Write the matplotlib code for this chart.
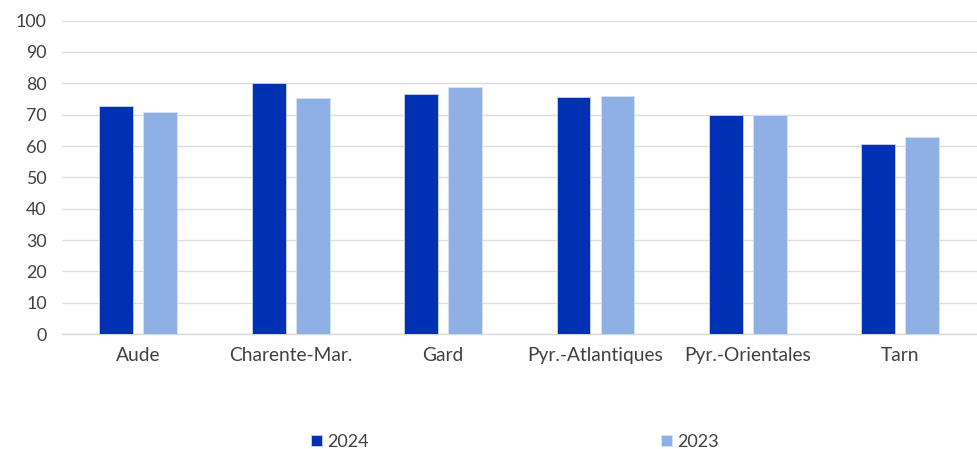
import matplotlib
matplotlib.use("Agg")
import matplotlib.pyplot as plt
import numpy as np

plt.rcParams.update({
    "font.family": ["Lato", "DejaVu Sans"],
    "font.size": 12,
})

categories = ["Aude", "Charente-Mar.", "Gard", "Pyr.-Atlantiques", "Pyr.-Orientales", "Tarn"]
values_2024 = [72.7, 80.1, 76.5, 75.6, 69.9, 60.5]
values_2023 = [71.0, 75.2, 78.8, 76.0, 69.9, 62.9]
yticks = list(range(0, 101, 10))

C2024, C2023 = "#0030B4", "#8EB0E5"
TXT = "#404040"

fig = plt.figure(figsize=(9.77, 4.49), dpi=100)
ax = fig.add_axes([0.0635, 0.256, 0.936, 0.698])

x = np.arange(len(categories))
w = 0.222
off = 0.144
ax.bar(x - off, values_2024, width=w, color=C2024, edgecolor="#c9d6f0", linewidth=0.6, zorder=3, label="2024")
ax.bar(x + off, values_2023, width=w, color=C2023, edgecolor="#d6e2f6", linewidth=0.6, zorder=3, label="2023")

ax.set_xlim(-0.5, len(categories) - 0.5)
ax.set_ylim(0, 100)
ax.set_yticks(yticks)
ax.set_xticks(x)
ax.set_xticklabels(categories)
ax.grid(True, axis="y", color="#dedede", lw=1.0, zorder=0)
for s in ("top", "right", "left"):
    ax.spines[s].set_visible(False)
ax.spines["bottom"].set_color("#d9d9d9")
ax.spines["bottom"].set_linewidth(1.0)
ax.tick_params(axis="y", length=0, pad=11, colors=TXT, labelsize=12.8)
ax.tick_params(axis="x", length=0, pad=9, colors=TXT, labelsize=13.8)

fig.legend(loc="lower center", bbox_to_anchor=(0.527, -0.038), ncol=2, frameon=False,
           handlelength=0.6, handleheight=0.6, handletextpad=0.3,
           columnspacing=16.2, fontsize=13, labelcolor=TXT)

fig.savefig("out.png", facecolor="white")
